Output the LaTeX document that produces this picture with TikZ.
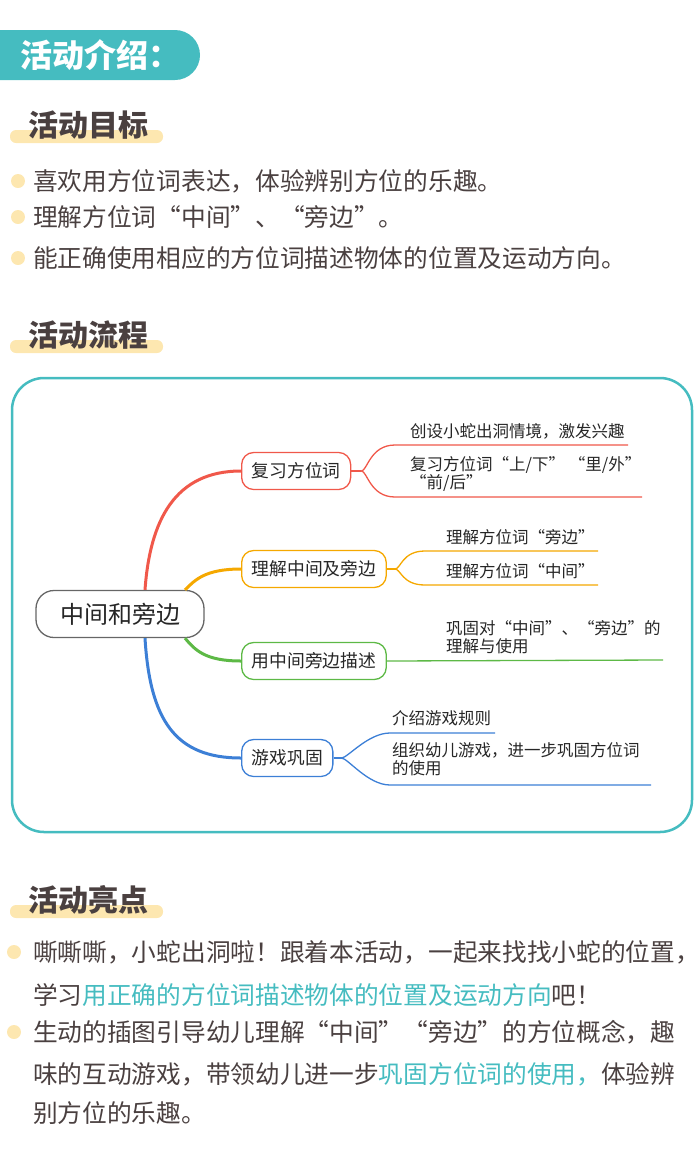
\documentclass[tikz,border=0pt]{standalone}
\usepackage{fontspec}
\setmainfont{Noto Sans CJK SC}
\usetikzlibrary{positioning}
\definecolor{teal}{HTML}{45BCC0}
\definecolor{ink}{HTML}{4A4040}
\definecolor{bar}{HTML}{FDE7B0}
\definecolor{cred}{HTML}{F0584A}
\definecolor{corg}{HTML}{F5A800}
\definecolor{cgrn}{HTML}{5DB946}
\definecolor{cblu}{HTML}{3C7FD6}
\tikzset{x=1pt, y=-1pt,
  head/.style={anchor=west, font=\fontsize{30}{30}\selectfont\bfseries, text=ink, inner sep=0},
  bodytxt/.style={anchor=west, font=\fontsize{24.7}{24.7}\selectfont, text=ink, inner sep=0},
  dot/.style={circle, fill=bar, minimum size=14pt, inner sep=0},
  branch/.style={draw=#1, line width=1.3pt, rounded corners=12pt, minimum height=37pt, inner xsep=10pt, font=\fontsize{17.8}{17.8}\selectfont, text=black!85, anchor=west},
  leaf/.style={anchor=west, font=\fontsize{16.5}{18}\selectfont, text=black!85, inner sep=0, align=left},
  link/.style={line width=#1}}
\newcommand{\hl}[1]{\textcolor{teal}{#1}}
\begin{document}
\begin{tikzpicture}
\useasboundingbox (0,0) rectangle (700,1149);
% header
\fill[teal] (0,30) -- (175,30) arc[start angle=-90, end angle=90, radius=25] -- (0,80) -- cycle;
\node[anchor=west, text=white, font=\fontsize{32}{32}\selectfont\bfseries, inner sep=0] (title) at (20,55) {活动介绍：};
% goals
\fill[bar, rounded corners=6pt] (10,130) rectangle (163,143);
\node[head] (h1) at (28,125) {活动目标};
\foreach \y/\t in {181/喜欢用方位词表达，体验辨别方位的乐趣。, 217/理解方位词“中间”、“旁边”。, 258/能正确使用相应的方位词描述物体的位置及运动方向。}{
  \node[dot] at (18,\y) {};
  \node[bodytxt] at (33,\y) {\t};
}
% flow
\fill[bar, rounded corners=6pt] (10,340) rectangle (163,353);
\node[head] (h2) at (28,335) {活动流程};
\draw[teal, line width=2.5pt, rounded corners=32pt] (12,378) rectangle (692,832);
\node[draw=black!60, line width=1.3pt, rounded corners=18pt, minimum width=168pt, minimum height=47pt, font=\fontsize{24}{24}\selectfont, text=black!85] (zj) at (120,614) {中间和旁边};
\node[branch=cred] (b1) at (241,471) {复习方位词};
\node[branch=corg] (b2) at (241,569) {理解中间及旁边};
\node[branch=cgrn] (b3) at (241,661) {用中间旁边描述};
\node[branch=cblu] (b4) at (241,758) {游戏巩固};
\draw[cred, line width=3pt] ([xshift=25pt]zj.north) .. controls (150,520) and (175,471) .. (b1.west);
\draw[corg, line width=3pt] ([xshift=65pt]zj.north) .. controls (195,580) and (205,569) .. (b2.west);
\draw[cgrn, line width=3pt] ([xshift=65pt]zj.south) .. controls (195,650) and (205,661) .. (b3.west);
\draw[cblu, line width=3pt] ([xshift=25pt]zj.south) .. controls (150,720) and (175,758) .. (b4.west);
% leaves
\draw[cred, line width=1.3pt] (b1.east) -- ++(10,0) coordinate (k1);
\draw[cred, line width=1.3pt] (k1) .. controls ++(6,0) and (370,445) .. (395,445) -- (628,445);
\draw[cred, line width=1.3pt] (k1) .. controls ++(6,0) and (370,497) .. (395,497) -- (642,497);
\node[leaf] at (410,431) {创设小蛇出洞情境，激发兴趣};
\node[leaf] at (410,474) {复习方位词“上/下” “里/外”\\ “前/后”};
\draw[corg, line width=1.3pt] (b2.east) -- ++(8,0) coordinate (k2);
\draw[corg, line width=1.3pt] (k2) .. controls ++(6,0) and (402,551) .. (425,551) -- (598,551);
\draw[corg, line width=1.3pt] (k2) .. controls ++(6,0) and (402,585) .. (425,585) -- (598,585);
\node[leaf] at (446,537) {理解方位词“旁边”};
\node[leaf] at (446,571) {理解方位词“中间”};
\draw[cgrn, line width=1.3pt] (b3.east) -- (663,660);
\node[leaf] at (446,637) {巩固对“中间”、“旁边”的\\理解与使用};
\draw[cblu, line width=1.3pt] (b4.east) -- ++(8,0) coordinate (k4);
\draw[cblu, line width=1.3pt] (k4) .. controls ++(6,0) and (368,733) .. (390,733) -- (495,733);
\draw[cblu, line width=1.3pt] (k4) .. controls ++(6,0) and (368,785) .. (390,785) -- (651,785);
\node[leaf] at (392,718) {介绍游戏规则};
\node[leaf] at (392,759) {组织幼儿游戏，进一步巩固方位词\\的使用};
% highlights
\fill[bar, rounded corners=6pt] (10,905) rectangle (163,918);
\node[head] (h3) at (28,900) {活动亮点};
\node[dot] at (14,952) {};
\node[bodytxt] at (33,952) {嘶嘶嘶，小蛇出洞啦！跟着本活动，一起来找找小蛇的位置，};
\node[bodytxt] at (33,995) {学习\hl{用正确的方位词描述物体的位置及运动方向}吧！};
\node[dot] at (14,1032) {};
\node[bodytxt] at (33,1032) {生动的插图引导幼儿理解“中间”“旁边”的方位概念，趣};
\node[bodytxt] at (33,1074) {味的互动游戏，带领幼儿进一步\hl{巩固方位词的使用，}体验辨};
\node[bodytxt] at (33,1113) {别方位的乐趣。};
\end{tikzpicture}
\end{document}
